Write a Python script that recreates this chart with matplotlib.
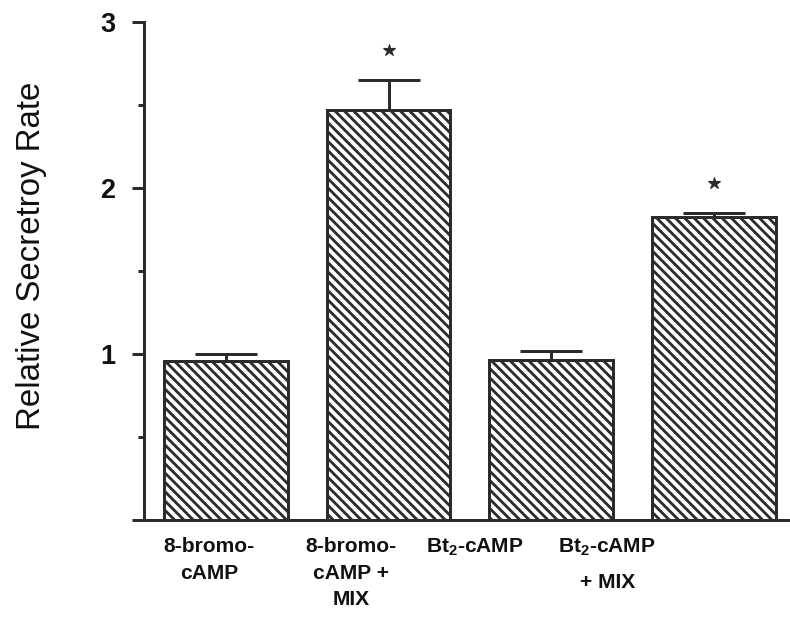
import numpy as np
import matplotlib
matplotlib.use('Agg')
import matplotlib.pyplot as plt

# data
means = [0.96, 2.47, 0.965, 1.825]
errors = [0.04, 0.18, 0.05, 0.025]
significant = [False, True, False, True]
tick_labels = ['8-bromo-\ncAMP', '8-bromo-\ncAMP +\nMIX', r'Bt$_2$-cAMP', 'Bt$_2$-cAMP\n+ MIX']
label_pos = [-0.105, 0.77, 1.53, 2.345]

ink = '#2b2b2b'
txt = '#111111'

DPI = 84
plt.rcParams['font.family'] = ['Liberation Sans', 'DejaVu Sans']
plt.rcParams['mathtext.fontset'] = 'custom'
plt.rcParams['mathtext.rm'] = 'Liberation Sans:bold'
plt.rcParams['mathtext.it'] = 'Liberation Sans:bold'
plt.rcParams['mathtext.bf'] = 'Liberation Sans:bold'
plt.rcParams['hatch.linewidth'] = 2.4
plt.rcParams['hatch.color'] = ink


def px(v):
    # pixels -> points at this dpi
    return v * 72.0 / DPI


fig = plt.figure(figsize=(790.2 / DPI, 629.2 / DPI), dpi=DPI)
ax = fig.add_axes([144 / 790, 109 / 629, 646 / 790, 498 / 629])

x = np.arange(len(means))
ax.bar(x, means, width=0.76, facecolor='white', edgecolor=ink,
       linewidth=px(3), hatch='\\\\\\', zorder=2)
ax.errorbar(x, means, yerr=[np.zeros(len(errors)), errors], fmt='none',
            ecolor=ink, elinewidth=px(3), capsize=px(31), capthick=px(3), zorder=3)

for xi, m, e, s in zip(x, means, errors, significant):
    if s:
        ax.plot(xi, m + e + 0.18, marker='*', color=ink, markersize=px(13),
                linestyle='none', zorder=4)

ax.set_xlim(-0.505, 3.47)
ax.set_ylim(0, 3)

ax.spines['top'].set_visible(False)
ax.spines['right'].set_visible(False)
for side in ['left', 'bottom']:
    ax.spines[side].set_linewidth(px(3))
    ax.spines[side].set_color(ink)

ax.set_yticks([0, 1, 2, 3])
ax.set_yticklabels(['', '1', '2', '3'])
ax.set_yticks([0.5, 1.5, 2.5], minor=True)
ax.tick_params(axis='y', which='major', length=px(12), width=px(3), color=ink,
               pad=px(17), labelsize=px(27), labelcolor=txt)
ax.tick_params(axis='y', which='minor', length=px(6), width=px(3), color=ink)
for lab in ax.get_yticklabels():
    lab.set_fontweight('bold')

ax.set_xticks(label_pos)
ax.set_xticklabels(tick_labels, fontsize=px(21), fontweight='bold',
                   color=txt, linespacing=1.5)
ax.get_xticklabels()[3].set_linespacing(2.0)
ax.tick_params(axis='x', length=0, pad=px(17))

ax.set_ylabel('Relative Secretroy Rate', fontsize=px(33), color=txt)
ax.yaxis.set_label_coords(-0.15, 0.53)

fig.savefig('out.png', dpi=DPI)
